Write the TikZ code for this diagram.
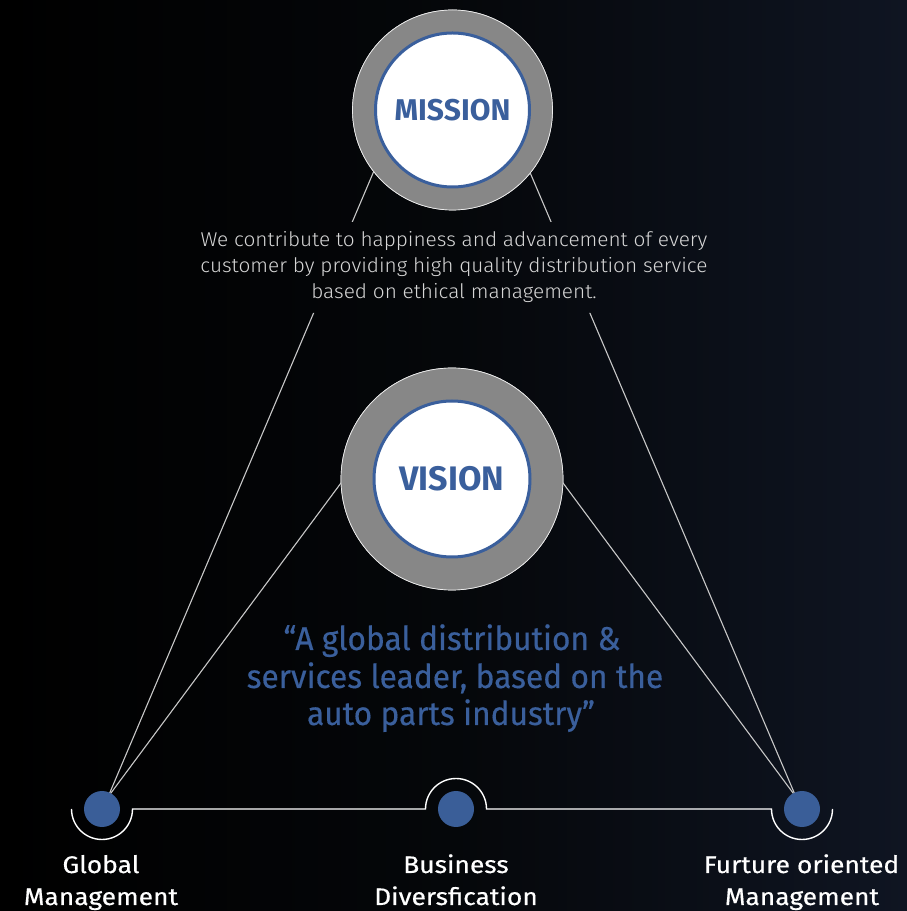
\documentclass[tikz,border=0pt]{standalone}
\usepackage{fontspec}
\setmainfont{Fira Sans}
\IfFontExistsTF{Fira Sans Light}
  {\newfontfamily\dinl{Fira Sans Light}[FakeStretch=1.04]}
  {\newfontfamily\dinl{Fira Sans}[FakeStretch=1.04]}
\newfontfamily\dinq{Fira Sans}[FakeStretch=0.96, FakeBold=0.4]
\newfontfamily\dinlab{Fira Sans}[FakeStretch=1.1, FakeBold=0.5]
\newfontfamily\dinb{Fira Sans}[FakeStretch=1.0]
\definecolor{bgR}{HTML}{0F1522}
\definecolor{bgM}{HTML}{05070A}
\definecolor{blueT}{HTML}{3A5F9C}
\definecolor{dotB}{HTML}{3A5E98}
\definecolor{ringG}{HTML}{878787}
\definecolor{lineG}{HTML}{C8C8C8}
\definecolor{txtG}{HTML}{D6D6D6}
\begin{document}
\begin{tikzpicture}[x=1pt,y=1pt,
  ring/.style={circle, draw=white!85!gray, line width=0.7pt, fill=ringG, inner sep=0pt, outer sep=0pt, minimum size=#1},
  core/.style={circle, draw=blueT, line width=3pt, fill=white, inner sep=0pt, outer sep=0pt, minimum size=#1},
  title/.style={text=blueT, font=\dinb\bfseries\fontsize{#1}{#1}\selectfont, anchor=base},
  conn/.style={draw=lineG, line width=1.1pt},
  base/.style={draw=white, line width=1.4pt},
  dot/.style={circle, fill=dotB, inner sep=0pt, outer sep=0pt, minimum size=36pt},
  mtext/.style={text=txtG, font=\dinl\fontsize{20}{26}\selectfont, anchor=base, inner sep=0pt},
  qtext/.style={text=blueT, font=\dinq\fontsize{33}{38}\selectfont, anchor=base, inner sep=0pt},
  ltext/.style={text=white, font=\dinlab\fontsize{24}{30}\selectfont, anchor=base, inner sep=0pt}
]
\useasboundingbox (0,0) rectangle (907,911);
\shade[left color=black, right color=bgR, middle color=bgM] (0,0) rectangle (907,911);

% nodes
\node[ring=200pt] (missionO) at (452.5,801) {};
\node[ring=222pt] (visionO) at (452,432) {};
\coordinate (gltip) at (108,114);
\coordinate (frtip) at (796,114);

% connectors (gap for the mission text)
\begin{scope}[even odd rule]
  \clip (0,0) rectangle (907,911) (190,598) rectangle (720,689);
  \draw[conn] (missionO.218.7) -- (gltip);
  \draw[conn] (missionO.321.3) -- (frtip);
\end{scope}
\draw[conn] (visionO.182) -- (gltip);
\draw[conn] (visionO.358) -- (frtip);

% redraw rings on top of connector ends
\node[ring=200pt] (missionR) at (452.5,801) {};
\node[ring=222pt] (visionR) at (452,432) {};
\node[core=154pt] (missionI) at (452.5,801) {};
\node[core=156pt] (visionI) at (452,432) {};
\node[title=30] (missionT) at (452.5,790) {MISSION};
\node[title=34] (visionT) at (452,420) {VISION};

% base line with arcs
\draw[base] (71.5,102) arc[start angle=180, end angle=360, radius=30.5]
  -- (425.5,102) arc[start angle=180, end angle=0, radius=30.5]
  -- (771.5,102) arc[start angle=180, end angle=360, radius=30.5];

\node[dot] (global) at (102,102) {};
\node[dot] (business) at (456,102) {};
\node[dot] (future) at (802,102) {};

% mission text
\node[mtext] (m1) at (454,664) {We contribute to happiness and advancement of every};
\node[mtext] (m2) at (454,638) {customer by providing high quality distribution service};
\node[mtext] (m3) at (454,612) {based on ethical management.};

% vision quote
\node[qtext] (q1) at (452,261) {“A global distribution \&};
\node[qtext] (q2) at (455,223) {services leader, based on the};
\node[qtext] (q3) at (451,186) {auto parts industry”};

% labels
\node[ltext] (gl1) at (101,38) {Global};
\node[ltext] (gl2) at (101,6) {Management};
\node[ltext] (bd1) at (456,38) {Business};
\node[ltext] (bd2) at (456,6) {Diversfication};
\node[ltext] (fo1) at (801.5,38) {Furture oriented};
\node[ltext] (fo2) at (802,6) {Management};
\end{tikzpicture}
\end{document}
